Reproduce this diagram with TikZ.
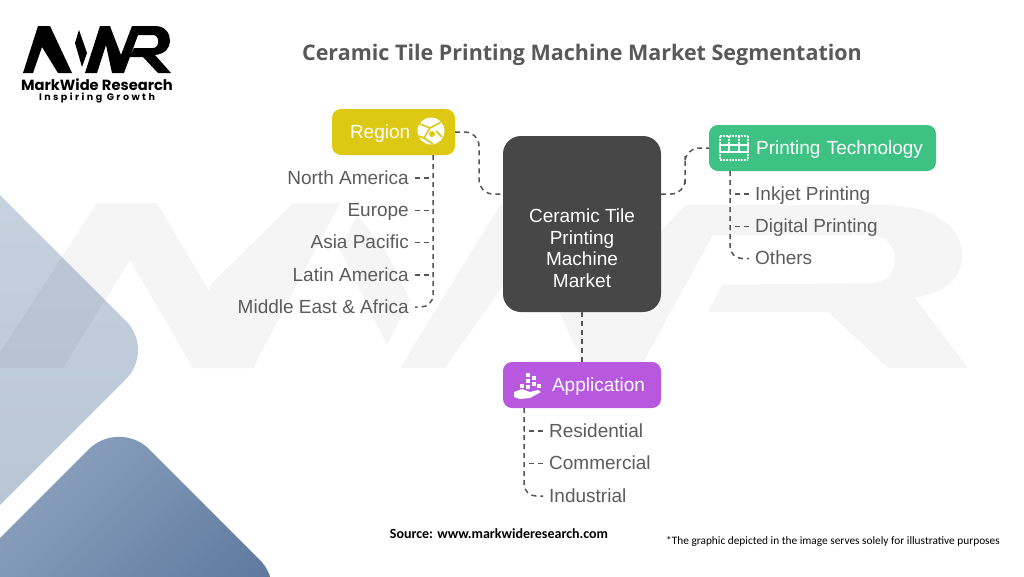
\documentclass[tikz,border=0pt]{standalone}
\usepackage{xcolor}
\usepackage{fontspec}
\setmainfont{Liberation Sans}
\newfontfamily\titlefont{Open Sans}
\newfontfamily\logofont{Poppins}
\newfontfamily\logospaced[LetterSpace=26]{Poppins}
\newfontfamily\notefont{Carlito}
\definecolor{linkgrey}{HTML}{555555}
\definecolor{itemgrey}{HTML}{5C5C5C}
\definecolor{marketgrey}{HTML}{474747}
\definecolor{regionyellow}{HTML}{DDC814}
\definecolor{printgreen}{HTML}{3DC283}
\definecolor{applypurple}{HTML}{B758DF}
\definecolor{paletop}{HTML}{C8D2DF}
\definecolor{palebottom}{HTML}{B7C5D5}
\definecolor{deeptop}{HTML}{8FA3C0}
\definecolor{deepbottom}{HTML}{4F6D94}

\begin{document}
\begin{tikzpicture}[x=1pt,y=-1pt,
    link/.style={draw=linkgrey, line width=1.5pt, dash pattern=on 5pt off 4pt},
    catbox/.style={rectangle, rounded corners=9pt, minimum height=46pt, inner sep=0pt, text=white, text height=14pt, text depth=2pt, font=\fontsize{19}{22}\selectfont},
    itemleft/.style={anchor=east, inner xsep=6pt, inner ysep=0pt, text=itemgrey, text height=14pt, text depth=2pt, font=\fontsize{19}{22}\selectfont},
    itemright/.style={itemleft, anchor=west},
    iconline/.style={draw=white, line width=1.5pt}]
\clip (0,0) rectangle (1024,576);
\fill[white] (0,0) rectangle (1024,576);

\shade[top color=paletop, bottom color=palebottom, rounded corners=41pt]
    (-30,165) -- (155,350) -- (-30,535) -- cycle;
\shade[top color=deeptop, bottom color=deepbottom, shading angle=45, rounded corners=43pt]
    (-40,578) -- (119,419) -- (290,590) -- (119,760) -- cycle;

\begin{scope}[transparency group, opacity=0.04]
\fill[black] (-10,368) -- (97,203) -- (157,203) -- (255,368) -- (193,368) -- (130,260) -- (63,368) -- cycle;
\fill[black] (210,285) -- (293,203) -- (340,203) -- (253,368) -- (200,368) -- cycle;
\fill[black] (357,215) -- (385,250) -- (410,300) -- (387,345) -- (340,250) -- cycle;
\fill[black] (400,368) -- (445,368) -- (560,205) -- (500,205) -- cycle;
\fill[black] (510,203) -- (570,203) -- (613,285) -- (685,205) -- (880,205)
    .. controls (940,205) and (962,230) .. (962,255) .. controls (962,280) and (945,292) .. (915,298)
    -- (968,368) -- (888,368) -- (828,312) -- (708,312) -- (722,285) -- (868,283)
    .. controls (888,283) and (895,272) .. (895,260) .. controls (895,245) and (885,235) .. (868,235)
    -- (713,235) -- (640,368) -- (585,368) -- cycle;
\end{scope}

\fill[black] (23,73) -- (38,26) -- (50,26) -- (72,73) -- (58,73) -- (42,47) -- (33,73) -- cycle;
\fill[black] (79,30) -- (87,53) -- (82,67) -- (75,43) -- cycle;
\fill[black] (85,73) -- (100,26) -- (110,26) -- (121,55) -- (132,26) -- (155,26)
    .. controls (166,26) and (170,34) .. (170,41) .. controls (170,48) and (165,54) .. (155,55)
    -- (171,73) -- (158,73) -- (143,57) -- (130,57) -- (134,48) -- (153,48)
    .. controls (160,48) and (160,35) .. (153,35) -- (138,35) -- (124,73) -- (112,73) -- (106,45) -- (97,73) -- cycle;
\node[inner sep=0pt, font=\logofont\bfseries\fontsize{14.7}{16}\selectfont] (logoname) at (97,84.5) {MarkWide Research};
\node[inner sep=0pt, font=\logospaced\bfseries\fontsize{9.5}{11}\selectfont] (logotag) at (97,97.5) {Inspiring Growth};

\node[inner sep=0pt, text=black!65, font=\titlefont\bfseries\fontsize{21.5}{26}\selectfont] (title) at (582,55) {Ceramic Tile Printing Machine Market Segmentation};

\node[rectangle, rounded corners=18pt, fill=marketgrey, minimum width=158pt, minimum height=176pt, inner sep=0pt, text=white, align=center, font=\fontsize{19}{21.7}\selectfont] (market) at (582,224) {\mbox{}\\[40.5pt]Ceramic Tile\\Printing\\Machine\\Market};
\node[catbox, fill=regionyellow, minimum width=123pt, text width=87pt, align=left] (region) at (393.5,132) {Region};
\node[catbox, fill=printgreen, minimum width=227pt, text width=201pt, align=right] (printing) at (822.5,148) {Printing Technology};
\node[catbox, fill=applypurple, minimum width=158pt, text width=126pt, align=right] (application) at (582,385) {Application};

\node[itemleft] (north) at (415,178) {North America};
\node[itemleft] (europe) at (415,210.5) {Europe};
\node[itemleft] (asia) at (415,242.5) {Asia Pacific};
\node[itemleft] (latin) at (415,275) {Latin America};
\node[itemleft] (middle) at (415,307) {Middle East \& Africa};

\node[itemright] (inkjet) at (749,194) {Inkjet Printing};
\node[itemright] (digital) at (749,226.5) {Digital Printing};
\node[itemright] (others) at (749,258.5) {Others};

\node[itemright] (residential) at (543,431) {Residential};
\node[itemright] (commercial) at (543,463.5) {Commercial};
\node[itemright] (industrial) at (543,496) {Industrial};

\coordinate (marketleft) at (503,194);
\coordinate (marketright) at (661,194);
\coordinate (regionbend) at (479,163);
\coordinate (printbend) at (685,170);
\coordinate (regiontrunk) at (433,155);
\coordinate (printtrunk) at (730,171);
\coordinate (applytrunk) at (524,408);

\draw[link, rounded corners=14pt] (region.east) -| (regionbend) |- (marketleft);
\draw[link, rounded corners=14pt] (marketright) -| (printbend) |- (printing.west);
\draw[link] (market.south) -- (application.north);

\draw[link, rounded corners=12pt] (regiontrunk) |- (middle.east);
\draw[link] (north.east) -- (north.east -| regiontrunk);
\draw[link] (europe.east) -- (europe.east -| regiontrunk);
\draw[link] (asia.east) -- (asia.east -| regiontrunk);
\draw[link] (latin.east) -- (latin.east -| regiontrunk);

\draw[link, rounded corners=12pt] (printtrunk) |- (others.west);
\draw[link] (inkjet.west) -- (inkjet.west -| printtrunk);
\draw[link] (digital.west) -- (digital.west -| printtrunk);

\draw[link, rounded corners=12pt] (applytrunk) |- (industrial.west);
\draw[link] (residential.west) -- (residential.west -| applytrunk);
\draw[link] (commercial.west) -- (commercial.west -| applytrunk);

\fill[white] (431,131) circle (13.5);
\draw[regionyellow, line width=1.6pt] (420,124) -- (430,128) -- (441,122);
\draw[regionyellow, line width=1.6pt] (430,128) -- (424,138) -- (418,136);
\draw[regionyellow, line width=1.6pt] (436,131) -- (442,137);
\draw[regionyellow, line width=1.6pt] (424,138) -- (433,144);
\fill[regionyellow] (432,134) circle (3);

\draw[iconline, dash pattern=on 1.5pt off 1.5pt] (720,136) -- (748,136);
\draw[iconline, dash pattern=on 1.5pt off 1.5pt] (720,160) -- (748,160);
\draw[iconline, dash pattern=on 1.5pt off 1.5pt] (720,136) -- (720,160);
\draw[iconline, dash pattern=on 1.5pt off 1.5pt] (748,136) -- (748,160);
\draw[iconline, dash pattern=on 1.5pt off 1.5pt] (729,136) -- (729,145);
\draw[iconline, dash pattern=on 1.5pt off 1.5pt] (739,136) -- (739,145);
\draw[iconline, line width=1.2pt] (720,145) rectangle (748,152);
\draw[iconline, line width=1.2pt] (729,145) -- (729,152);
\draw[iconline, line width=1.2pt] (739,145) -- (739,152);

\fill[white] (526,373) rectangle (530,377);
\fill[white] (526,379) rectangle (530,383);
\fill[white] (532,376) rectangle (536,380);
\fill[white] (526,385) rectangle (530,389);
\fill[white] (532,382) rectangle (536,386);
\fill[white] (537,384) rectangle (541,388);
\fill[white] (520,384) rectangle (524,388);
\fill[white] (514,392) -- (522,389) -- (530,392) -- (538,390) -- (541,392) -- (530,398) -- (520,399) -- (514,397) -- cycle;

\node[inner sep=0pt, font=\notefont\bfseries\fontsize{14}{17}\selectfont] (source) at (499,534) {Source: www.markwideresearch.com};
\node[inner sep=0pt, anchor=east, font=\notefont\fontsize{11.35}{14}\selectfont] (note) at (1000,541) {*The graphic depicted in the image serves solely for illustrative purposes};
\end{tikzpicture}
\end{document}
